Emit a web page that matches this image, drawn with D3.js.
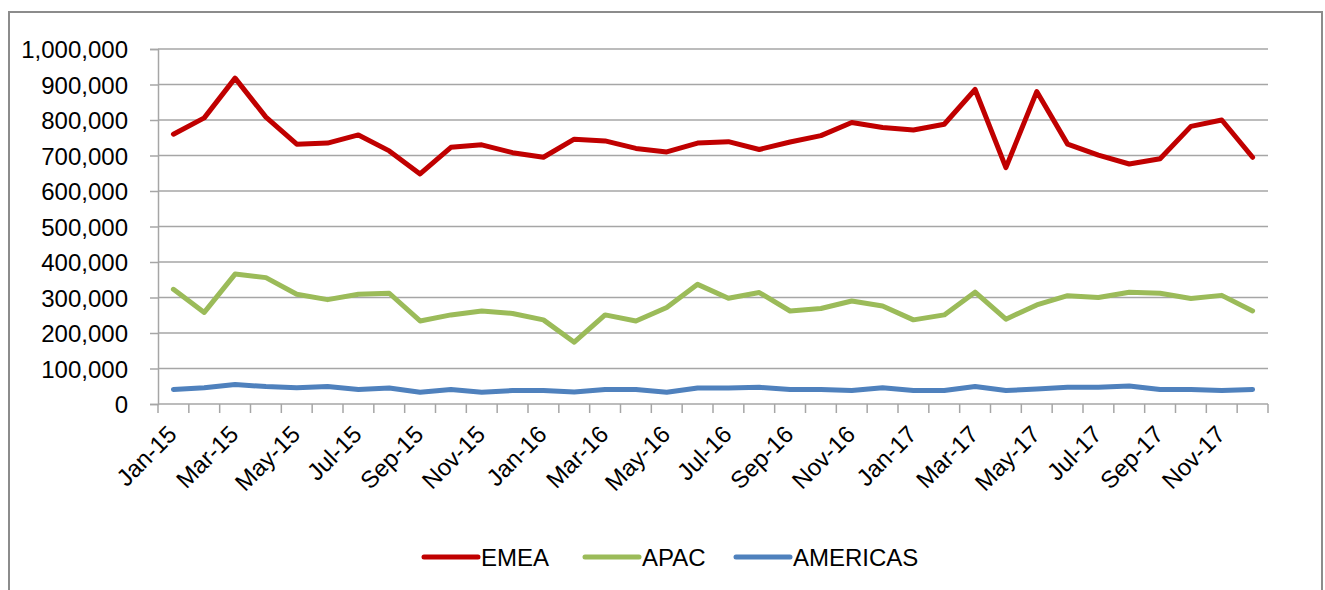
<!DOCTYPE html>
<html>
<head>
<meta charset="utf-8">
<script src="https://cdn.jsdelivr.net/npm/d3@7"></script>
<style>
  body { margin: 0; background: #fff; }
  svg { overflow: visible; }
  text { font-family: "Liberation Sans", Arial, sans-serif; fill: #000; }
</style>
</head>
<body>
<div id="chart"></div>
<script>
// months Jan-15 .. Dec-17
var months = ["Jan-15","Feb-15","Mar-15","Apr-15","May-15","Jun-15","Jul-15","Aug-15","Sep-15","Oct-15","Nov-15","Dec-15",
              "Jan-16","Feb-16","Mar-16","Apr-16","May-16","Jun-16","Jul-16","Aug-16","Sep-16","Oct-16","Nov-16","Dec-16",
              "Jan-17","Feb-17","Mar-17","Apr-17","May-17","Jun-17","Jul-17","Aug-17","Sep-17","Oct-17","Nov-17","Dec-17"];

var emea = [760000, 806000, 918000, 808000, 732000, 735000, 758000, 713000, 648000, 723000, 730000, 708000,
            695000, 746000, 741000, 720000, 710000, 735000, 739000, 717000, 738000, 756000, 793000, 779000,
            772000, 788000, 886000, 666000, 880000, 732000, 701000, 676000, 691000, 782000, 800000, 695000];

var apac = [323000, 258000, 366000, 356000, 309000, 294000, 309000, 312000, 234000, 251000, 262000, 255000,
            237000, 174000, 251000, 234000, 272000, 337000, 298000, 314000, 262000, 269000, 290000, 276000,
            237000, 251000, 315000, 239000, 279000, 305000, 300000, 315000, 312000, 297000, 306000, 262000];

var americas = [41000, 46000, 55000, 49000, 46000, 49000, 41000, 45000, 33000, 41000, 33000, 38000,
                38000, 34000, 41000, 41000, 33000, 45000, 45000, 47000, 41000, 41000, 38000, 46000,
                38000, 38000, 49000, 38000, 42000, 47000, 47000, 51000, 41000, 41000, 38000, 41000];

var yTicks = [0, 100000, 200000, 300000, 400000, 500000, 600000, 700000, 800000, 900000, 1000000];

var seriesNames = ["EMEA", "APAC", "AMERICAS"];
var seriesColors = ["#c00000", "#9bbb59", "#4f81bd"];
var seriesData = [emea, apac, americas];

var width = 1325;
var height = 590;
var margin = { top: 49, right: 57, bottom: 186, left: 158 };
var innerWidth = width - margin.left - margin.right;
var innerHeight = height - margin.top - margin.bottom;

var svg = d3.select("#chart")
    .append("svg")
    .attr("width", width)
    .attr("height", height);

// outer chart border
svg.append("rect")
    .attr("x", 9)
    .attr("y", 12)
    .attr("width", 1313)
    .attr("height", 600)
    .attr("fill", "none")
    .attr("stroke", "#8c8c8c")
    .attr("stroke-width", 2);

var g = svg.append("g")
    .attr("transform", "translate(" + margin.left + "," + margin.top + ")");

var x = d3.scaleBand()
    .domain(months)
    .range([0, innerWidth]);

var y = d3.scaleLinear()
    .domain([0, 1000000])
    .range([innerHeight, 0]);

var fmt = d3.format(",");

// gridlines
g.append("g")
    .selectAll("line")
    .data(yTicks.filter(function(d) { return d > 0; }))
    .enter()
    .append("line")
    .attr("x1", 0)
    .attr("x2", innerWidth)
    .attr("y1", function(d) { return y(d); })
    .attr("y2", function(d) { return y(d); })
    .attr("stroke", "#a6a6a6")
    .attr("stroke-width", 1.5);

// y axis
var yAxis = g.append("g")
    .call(d3.axisLeft(y).tickValues(yTicks).tickFormat(fmt).tickSize(8).tickPadding(22));
yAxis.select(".domain").attr("stroke", "#a6a6a6").attr("stroke-width", 1.5);
yAxis.selectAll(".tick line").attr("stroke", "#a6a6a6").attr("stroke-width", 1.5);
yAxis.selectAll("text")
    .style("font-size", "24px")
    .attr("dy", "0.36em");

// x axis: ticks on category boundaries
var boundaries = months.map(function(m) { return x(m); }).concat([innerWidth]);
var xg = g.append("g")
    .attr("transform", "translate(0," + innerHeight + ")");
xg.append("line")
    .attr("x1", 0).attr("x2", innerWidth)
    .attr("stroke", "#a6a6a6").attr("stroke-width", 1.5);
xg.selectAll(".tk")
    .data(boundaries)
    .enter()
    .append("line")
    .attr("class", "tk")
    .attr("x1", function(d) { return d; })
    .attr("x2", function(d) { return d; })
    .attr("y1", 0)
    .attr("y2", 9)
    .attr("stroke", "#a6a6a6")
    .attr("stroke-width", 1.5);

// every second month labelled, rotated
xg.selectAll(".lbl")
    .data(months.filter(function(d, i) { return i % 2 === 0; }))
    .enter()
    .append("text")
    .attr("class", "lbl")
    .attr("text-anchor", "end")
    .attr("transform", function(d) {
        return "translate(" + (x(d) + x.bandwidth() / 2 - 7) + ",20) rotate(-45)";
    })
    .attr("dy", "0.7em")
    .style("font-size", "24px")
    .text(function(d) { return d; });

// lines
var line = d3.line()
    .x(function(d, i) { return x(months[i]) + x.bandwidth() / 2; })
    .y(function(d) { return y(d); });

seriesData.forEach(function(s, k) {
    g.append("path")
        .datum(s)
        .attr("fill", "none")
        .attr("stroke", seriesColors[k])
        .attr("stroke-width", 5)
        .attr("stroke-linejoin", "round")
        .attr("stroke-linecap", "round")
        .attr("d", line);
});

// legend
var legendX = [424, 585, 736];
var legend = svg.append("g");
seriesNames.forEach(function(name, k) {
    legend.append("line")
        .attr("x1", legendX[k])
        .attr("x2", legendX[k] + 54)
        .attr("y1", 557)
        .attr("y2", 557)
        .attr("stroke", seriesColors[k])
        .attr("stroke-width", 5)
        .attr("stroke-linecap", "round");
    legend.append("text")
        .attr("x", legendX[k] + 57)
        .attr("y", 557)
        .attr("dy", "0.36em")
        .style("font-size", "24px")
        .text(name);
});
</script>
</body>
</html>
